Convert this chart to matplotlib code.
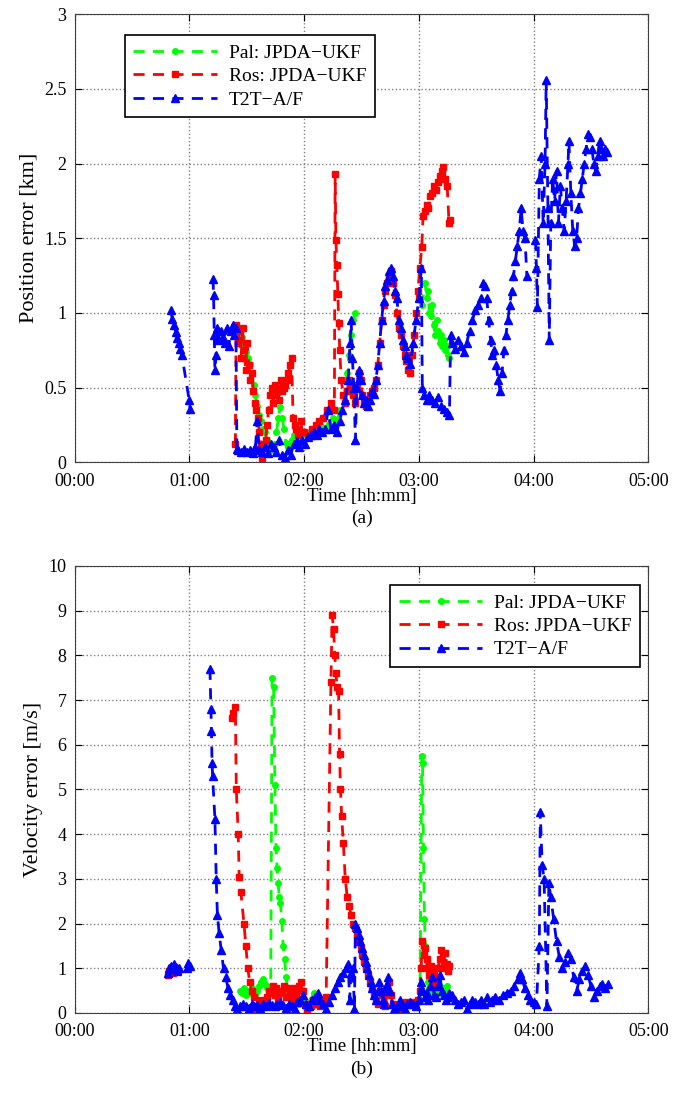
import numpy as np
import matplotlib.pyplot as plt
from matplotlib.ticker import FuncFormatter, MultipleLocator

nan = np.nan

# ---------------- (a) position error [km], time in minutes ----------------
pal_pos_t = [84.5, 85.5, 86.5, 87.5, 88.5, 89.5, 90.5, 91.5, 92.5, 93.5, 94.5, 95.5, 96.5, 97.5,
             98.5, 99.5, 100.5, 101.5, 102.5, 103.5, 104.5, 105.5, 106.5, 107.5, 108.5, 109.5,
             110.5, 111.5, 112.5, 113.5, 114.5, 115.5, 116.5, 117.5, 118.5, 119.5, 121, 123, 125,
             127, 129, 131, 133, 135, 137, 139, 141, 142.5, 143.5, 144.5, 145.5, 146.6,
             nan,
             181.5, 183.3, 184, 184.8, 185.5, 186.3, 187, 187.8, 188.5, 189.3, 190, 190.8, 191.5,
             192.3, 193, 193.8, 194.5, 195.3, 196]
pal_pos = [0.88, 0.82, 0.8, 0.84, 0.78, 0.74, 0.7, 0.66, 0.6, 0.52, 0.45, 0.38, 0.32, 0.28,
           0.22, 0.2, 0.15, 0.1, 0.08, 0.1, 0.12, 0.2, 0.3, 0.37, 0.3, 0.22,
           0.13, 0.1, 0.12, 0.15, 0.18, 0.16, 0.2, 0.22, 0.18, 0.2, 0.18, 0.2, 0.22,
           0.2, 0.24, 0.22, 0.26, 0.3, 0.28, 0.35, 0.45, 0.6, 0.72, 0.85, 0.95, 1.0,
           nan,
           1.05, 1.2, 1.1, 1.15, 1.0, 0.98, 1.05, 0.92, 0.85, 0.95, 0.88, 0.8, 0.85,
           0.78, 0.82, 0.75, 0.78, 0.72, 0.7]

ros_pos_t = [84.0, 84.4, 85.3, 86.2, 87.0, 87.8, 88.6, 89.4, 90.2, 91.0, 91.8, 92.6, 93.4, 94.2,
             95.0, 95.8, 96.6, 97.4, 98.2, 99.0, 99.8, 100.6, 101.4, 102.2, 103.0, 103.8, 104.6,
             105.4, 106.2, 107.0, 107.8, 108.6, 109.4, 110.2, 111.0, 111.8, 112.6, 113.4, 114.2,
             115.0, 115.8, 116.6, 117.4, 118.2, 119.0, 120, 122, 124, 126, 128, 130, 132, 134,
             135.8, 136.2, 136.6, 137.1, 137.6, 138.1, 138.6, 139.4, 140.5, 141.5, 142.5, 143.5,
             144.5, 145.5, 146.5, 147.5, 148.5, 149.5, 150.5, 151.5, 152.5, 153.5, 154.5, 155.5,
             156.5, 157.5, 158.5, 159.5, 160.5, 161.5, 162.5, 163.5, 164.5, 165.5, 166.5, 167.5,
             168.5, 169.5, 170.5, 171.5, 172.5, 173.5, 174.5, 175.5, 176.5, 177.5, 178.5, 179.5,
             180.5, 181.5, 182.2, 183.0, 184, 185, 186, 187, 188, 189, 190, 191, 192, 192.8,
             193.8, 194.8, 195.8, 196.3]
ros_pos = [0.12, 0.92, 0.8, 0.88, 0.7, 0.9, 0.75, 0.62, 0.8, 0.65, 0.55, 0.6, 0.48, 0.4,
           0.35, 0.3, 0.2, 0.12, 0.03, 0.1, 0.15, 0.25, 0.35, 0.45, 0.5, 0.4, 0.52,
           0.45, 0.5, 0.42, 0.55, 0.48, 0.5, 0.52, 0.55, 0.6, 0.65, 0.7, 0.3,
           0.25, 0.22, 0.18, 0.2, 0.28, 0.2, 0.2, 0.18, 0.22, 0.25, 0.28, 0.3, 0.35, 0.4,
           0.35, 1.93, 1.49, 1.32, 1.13, 0.93, 0.75, 0.55, 0.45, 0.4, 0.48, 0.55,
           0.5, 0.45, 0.4, 0.52, 0.6, 0.55, 0.45, 0.4, 0.38, 0.42, 0.45, 0.48,
           0.5, 0.55, 0.65, 0.8, 0.95, 1.05, 1.15, 1.2, 1.25, 1.28, 1.2, 1.12,
           1.0, 0.9, 0.85, 0.78, 0.72, 0.68, 0.62, 0.6, 0.72, 0.85, 1.0, 1.15,
           1.3, 1.44, 1.65, 1.68, 1.72, 1.7, 1.78, 1.8, 1.85, 1.82, 1.88, 1.92, 1.95, 1.98,
           1.9, 1.85, 1.6, 1.62]

t2t_pos_t = [50.3, 51, 52, 52.8, 53.6, 54.4, 55.2, 56, 59.8, 60.3,
             nan,
             72.3, 72.6, 73.0, 73.3, 73.8, 74.6, 75.6, 76.6, 77.6, 78.6, 79.6, 80.6, 81.6, 82.6,
             83.4, 84.3, 84.8, 85.5, 87, 88.5, 90, 91.5, 93, 94.5, 95.5, 96.5, 98, 99.5, 101,
             102.5, 104, 105.5, 107, 108.5, 110, 111.5, 113, 114.5, 116, 117.5, 119, 120.5, 122,
             123.5, 125, 126.5, 128, 129.5, 131, 132.5, 134, 135.5, 137, 138.5, 140, 141.5, 143,
             144, 144.6, 145.2, 146, 146.8, 147.5, 148.5, 149.5, 150.5, 151.5, 152.5, 153.5, 154.5,
             155.5, 156.5, 157.5, 158.5, 159.5, 160.5, 161.5, 162.5, 163.5, 164.5, 165.5, 166.5,
             167.5, 168.5, 169.5, 170.5, 171.5, 172.5, 173.5, 174.5, 175.5, 177, 178.5, 180,
             181.3, 181.8, 182.5, 184, 185.5, 187, 188.5, 190, 191.5, 193, 194.5, 196, 196.6,
             197.5, 199, 200.5, 202, 203.5, 205, 206.5, 208, 209.5, 211, 212.5, 213.5, 214.5,
             215.5, 216.5, 217.5, 218.5, 219.5, 220.5, 221.5, 222.5, 223.5, 224.5, 225.5, 226.5,
             227.5, 228.5, 229.5, 230.5, 231.5, 232.5, 233.5, 234.5, 235.5, 236.5,
             nan,
             241, 241.5, 242, 243, 244, 245, 246, 246.6, 247.5, 248.2, 249, 250, 251, 252, 253,
             254, 255, 256, 257, 258, 258.5, 259.5, 260.5, 261.5, 262.5, 263.5, 264.5, 265.5,
             266.5, 267.5, 268.5, 269.5, 270.5, 271.5, 272.5, 273.5, 274.5, 275.5, 276.5, 277.5,
             278.5]
t2t_pos = [1.02, 0.96, 0.92, 0.87, 0.83, 0.8, 0.76, 0.72, 0.42, 0.36,
           nan,
           1.23, 1.12, 0.85, 0.62, 0.72, 0.9, 0.82, 0.88, 0.84, 0.8, 0.9, 0.78, 0.88, 0.92,
           0.85, 0.9, 0.09, 0.08, 0.07, 0.09, 0.07, 0.08, 0.06, 0.1, 0.28, 0.08, 0.07, 0.1, 0.06,
           0.12, 0.1, 0.07, 0.15, 0.05, 0.03, 0.08, 0.05, 0.12, 0.14, 0.1, 0.15, 0.12, 0.17,
           0.18, 0.2, 0.18, 0.22, 0.2, 0.22, 0.35, 0.22, 0.25, 0.2, 0.28, 0.35, 0.42, 0.55,
           0.8, 0.95, 0.7, 0.5, 0.15, 0.5, 0.62, 0.55, 0.45, 0.4, 0.42, 0.38, 0.42,
           0.48, 0.46, 0.55, 0.65, 0.8, 0.95, 1.08, 1.18, 1.22, 1.28, 1.3, 1.25,
           1.15, 1.1, 0.95, 0.9, 0.82, 0.78, 0.72, 0.7, 0.66, 0.8, 0.95, 1.1,
           1.3, 0.5, 0.45, 0.42, 0.45, 0.42, 0.4, 0.44, 0.38, 0.36, 0.34, 0.32, 0.85,
           0.8, 0.76, 0.82, 0.78, 0.74, 0.8, 0.88, 0.95, 1.02, 1.05, 1.1, 1.2, 1.18,
           1.1, 0.95, 0.82, 0.72, 0.75, 0.65, 0.55, 0.48, 0.6, 0.75, 0.85, 0.95,
           1.05, 1.15, 1.25, 1.35, 1.45, 1.55, 1.7, 1.55, 1.5, 1.25,
           nan,
           1.49, 1.3, 1.04, 1.9, 2.05, 1.6, 2.0, 2.56, 1.7, 0.82, 1.6, 1.9, 1.75, 1.95, 1.6,
           1.85, 1.7, 1.55, 1.75, 2.0, 2.15, 1.8, 1.55, 1.45, 1.5, 1.7, 1.8, 1.9,
           2.0, 2.1, 2.2, 2.18, 2.1, 2.0, 1.95, 2.05, 2.15, 2.1, 2.05, 2.1,
           2.08]

# ---------------- (b) velocity error [m/s] ----------------
pal_vel_t = [86.4, 87.5, 88.5, 89.5, 90.5, 91.5, 92.5, 93.5, 94.5, 95.5, 96.5, 97.5, 98.5, 99.5,
             100.5, 101.5, 102.5, 103.2, 104.0, 104.7, 105.3, 105.8, 106.4, 107.0, 107.6, 108.3,
             109.0, 109.8, 110.5, 111.3, 112.0, 113, 114, 115, 116, 117.5, 119, 120.5, 122, 123.5,
             125, 126.5, 128,
             nan,
             180.6, 181.5, 181.9, 182.4, 182.9, 183.4, 184.0, 184.6, 185.3, 186.0, 186.7, 187.4,
             188.1, 188.8, 189.5, 190.2, 191.0, 191.7, 192.4, 193.1, 193.8, 194.5]
pal_vel = [0.5, 0.45, 0.55, 0.4, 0.5, 0.45, 0.55, 0.5, 0.4, 0.5, 0.6, 0.7, 0.75, 0.65,
           0.55, 0.5, 0.6, 7.5, 7.3, 5.1, 3.7, 3.25, 2.9, 2.6, 2.45, 2.05,
           1.5, 1.2, 0.8, 0.55, 0.4, 0.3, 0.2, 0.45, 0.25, 0.2, 0.3, 0.15, 0.1, 0.3,
           0.45, 0.3, 0.2,
           nan,
           0.3, 5.75, 5.6, 3.7, 2.1, 1.5, 1.0, 0.7, 0.55, 0.75, 0.5, 0.45,
           0.6, 0.4, 0.55, 0.45, 0.6, 0.5, 0.4, 0.55, 0.5, 0.6]

ros_vel_t = [48.7, 49.5, 50.3, 51.5, 52.7, 54,
             nan,
             82.2, 83.0, 84.0, 84.5, 85.5, 86.0, 86.9, 88.5, 89.5, 90.5, 91.5, 92.5, 93.5, 94.5,
             95.5, 96.5, 97.5, 98.5, 99.5, 100.5, 101.5, 102.5, 103.5, 104.5, 105.5, 106.5, 107.5,
             108.5, 109.5, 110.5, 111.5, 112.5, 113.5, 114.5, 115.5, 116.5, 117.5, 118.5, 119.5,
             120.5, 121.5, 122.5, 123.5, 124.5, 125.5, 126.5, 127.5, 128.5, 129.5, 130.5, 131.5,
             134.0, 134.6, 135.4, 136.0, 136.6, 137.2, 138.0, 138.5, 139.0, 139.6, 140.5, 141.5,
             142.5, 143.5, 144.5, 145.5, 146.5, 147.5, 148.5, 149.5, 150.5, 151.5, 152.5, 153.5,
             154.5, 155.5, 156.5, 157.5, 158.5, 159.5, 160.5, 161.5, 162.5, 163.5, 164.5, 165.5,
             166.5, 167.5, 169, 170.5, 172, 173.5, 175, 176.5, 178, 179.5,
             180.5, 181.2, 181.8, 182.5, 183.3, 184.0, 184.8, 185.5, 186.3, 187.0, 187.8, 188.5,
             189.3, 190.0, 190.8, 191.5, 192.3, 193.0, 193.8, 194.5, 195.3, 196.0]
ros_vel = [0.85, 0.95, 1.0, 0.9, 1.0, 0.95,
           nan,
           6.6, 6.7, 6.85, 5.0, 4.0, 3.05, 2.7, 2.0, 1.5, 1.0, 0.7, 0.5, 0.35, 0.15,
           0.1, 0.2, 0.3, 0.15, 0.2, 0.35, 0.5, 0.45, 0.6, 0.4, 0.55, 0.3, 0.5,
           0.45, 0.6, 0.35, 0.55, 0.4, 0.3, 0.55, 0.4, 0.3, 0.6, 0.7, 0.5,
           0.2, 0.1, 0.2, 0.15, 0.3, 0.2, 0.25, 0.2, 0.15, 0.3, 0.2, 0.35,
           7.4, 8.9, 8.6, 8.0, 7.6, 7.3, 7.2, 5.8, 5.0, 4.4, 3.8, 3.0,
           2.6, 2.4, 2.2, 2.0, 1.9, 1.75, 1.6, 1.45, 1.3, 1.15, 1.0, 0.85,
           0.7, 0.55, 0.45, 0.3, 0.2, 0.5, 0.4, 0.2, 0.15, 0.5, 0.7, 0.4,
           0.2, 0.1, 0.1, 0.2, 0.15, 0.25, 0.2, 0.25, 0.2, 0.3,
           0.5, 1.0, 1.6, 1.3, 1.45, 1.2, 1.0, 0.85, 1.05, 0.75, 0.9, 0.6,
           0.8, 1.0, 1.2, 1.4, 1.0, 1.1, 1.35, 1.1, 0.95, 1.05]

t2t_vel_t = [48.7, 49.5, 50.3, 51.1, 51.9, 52.7, 53.5, 54.3,
             nan,
             58.6, 59.4, 60.2,
             nan,
             70.7, 71.2, 71.5, 71.8, 72.1, 73.3, 74.0, 74.6, 75.5, 76.6, 77.8, 79.0, 80.2, 81.4,
             82.6, 83.8, 85.0, 86.5, 88, 89.5, 91, 92.5, 94, 95.5, 97, 98.5, 100, 101.5, 103,
             104.5, 106, 107.5, 109, 110.5, 112, 113.5, 115, 116.5, 118, 119.5, 121, 122.5, 124,
             125.5, 127, 128.5, 130, 131.5, 133, 134.5, 136, 137.5, 139, 140.5, 142, 143, 143.8,
             144.5, 145.5, 146.3, 146.8, 147.6, 148.5, 149.4, 150.3, 151.2, 152.1, 153, 153.9,
             154.8, 155.7, 156.6, 157.5, 158.4, 159.3, 160.2, 161.1, 162, 163, 164, 165, 166,
             167, 168, 169, 170, 171, 172.5, 174, 175.5, 177, 178.5, 180, 181, 182, 183, 184,
             185, 186, 187, 188, 189, 190, 191, 192, 193, 194, 195, 196, 197.5, 199, 200.5, 202,
             203.5, 205, 206.5, 208, 209.5, 211, 212.5, 214, 215.5, 217, 218.5, 220, 222, 224,
             226, 228, 230, 232, 233, 234, 235.5, 237, 238, 240, 241.5, 243, 243.5, 244.5,
             245.5, 247, 248, 249, 250.5, 252, 253.5, 255, 256.5, 258, 259.5, 261, 262.5, 264,
             265.5, 267, 268.5, 270, 271.5, 273, 274.5, 276, 277.5, 279]
t2t_vel = [0.9, 1.0, 1.05, 0.98, 1.1, 1.02, 0.95, 1.0,
           nan,
           1.0, 1.12, 1.05,
           nan,
           7.7, 6.8, 6.3, 5.6, 5.3, 4.35, 3.0, 2.2, 1.8, 1.4, 1.0, 0.8, 0.55, 0.4,
           0.3, 0.15, 0.1, 0.15, 0.2, 0.15, 0.12, 0.2, 0.15, 0.18, 0.12, 0.2, 0.15, 0.22, 0.18,
           0.15, 0.2, 0.25, 0.18, 0.12, 0.2, 0.15, 0.1, 0.25, 0.3, 0.4, 0.2, 0.15, 0.3,
           0.35, 0.45, 0.3, 0.2, 0.1, 0.25, 0.4, 0.55, 0.7, 0.8, 0.9, 1.0, 1.1, 0.3,
           0.9, 1.0, 0.1, 2.0, 1.9, 1.75, 1.6, 1.45, 1.3, 1.15, 1.0, 0.85,
           0.7, 0.55, 0.4, 0.3, 0.5, 0.7, 0.5, 0.3, 0.2, 0.6, 0.8, 0.5, 0.2,
           0.1, 0.05, 0.15, 0.3, 0.2, 0.1, 0.2, 0.25, 0.2, 0.15, 0.3, 0.7, 0.5, 0.35, 0.45,
           0.3, 0.6, 0.8, 0.4, 0.35, 0.6, 0.85, 0.5, 0.4, 0.3, 0.35, 0.45, 0.4, 0.3, 0.2, 0.25,
           0.3, 0.1, 0.2, 0.3, 0.25, 0.2, 0.3, 0.2, 0.35, 0.25, 0.3, 0.35, 0.3, 0.4,
           0.45, 0.5, 0.6, 0.75, 0.9, 0.75, 0.55, 0.4, 0.3, 0.25, 0.2, 1.5, 4.5, 3.3,
           3.0, 0.15, 2.9, 2.6, 2.1, 1.6, 1.25, 1.0, 1.15, 1.35, 1.2, 0.8, 0.5, 0.75,
           0.95, 1.05, 0.85, 0.6, 0.35, 0.5, 0.6, 0.65, 0.55, 0.65]

labels = ['Pal: JPDA\u2212UKF', 'Ros: JPDA\u2212UKF', 'T2T\u2212A/F']
colors = ['#00ff00', '#ff0000', '#0000ff']
markers = ['o', 's', '^']
msizes = [4, 4, 6]

plt.rcParams['font.family'] = ['Liberation Serif', 'DejaVu Serif']
plt.rcParams['font.size'] = 13


def hhmm(v, pos):
    return '%02d:%02d' % (int(v) // 60, int(v) % 60)


def setup(ax, ymax, ystep, ylabel):
    ax.set_xlim(0, 300)
    ax.set_ylim(0, ymax)
    ax.xaxis.set_major_locator(MultipleLocator(60))
    ax.yaxis.set_major_locator(MultipleLocator(ystep))
    ax.xaxis.set_major_formatter(FuncFormatter(hhmm))
    ax.yaxis.set_major_formatter(FuncFormatter(lambda v, p: '%g' % v))
    ax.grid(True, linestyle=':', color='#808080', linewidth=1)
    ax.tick_params(direction='in', top=True, right=True, length=5, labelsize=13)
    ax.tick_params(axis='x', pad=7.5)
    ax.tick_params(axis='y', pad=6)
    for s in ax.spines.values():
        s.set_color('#404040')
    ax.set_xlabel('Time [hh:mm]', fontsize=13.5)
    h = ax.get_position().height * 1093
    ax.xaxis.set_label_coords(0.5, -34.0 / h)
    ax.xaxis.label.set_va('center')
    ax.set_ylabel(ylabel, fontsize=16, labelpad=4)


def add_legend(ax, loc, anchor):
    leg = ax.legend(loc=loc, bbox_to_anchor=anchor, handlelength=4.3,
                    fancybox=False, edgecolor='k', framealpha=1, fontsize=14,
                    borderpad=0.45, labelspacing=0.3, handletextpad=0.6,
                    borderaxespad=0)
    leg.get_frame().set_linewidth(1.2)
    return leg


fig = plt.figure(figsize=(6.86, 10.93), dpi=100)

ax1 = fig.add_axes([0.109, 0.577, 0.836, 0.410])
series1 = [(pal_pos_t, pal_pos), (ros_pos_t, ros_pos), (t2t_pos_t, t2t_pos)]
for (t, v), c, m, ms, lab in zip(series1, colors, markers, msizes, labels):
    ax1.plot(t, v, '--', color=c, marker=m, markersize=ms, linewidth=2, label=lab,
             dashes=(4, 3))
setup(ax1, 3, 0.5, 'Position error [km]')
add_legend(ax1, 'upper left', (0.087, 0.953))
fig.text(0.527, 1 - 518.0 / 1093, '(a)', ha='center', va='center', fontsize=14)

ax2 = fig.add_axes([0.109, 0.0732, 0.836, 0.409])
series2 = [(pal_vel_t, pal_vel), (ros_vel_t, ros_vel), (t2t_vel_t, t2t_vel)]
for (t, v), c, m, ms, lab in zip(series2, colors, markers, msizes, labels):
    ax2.plot(t, v, '--', color=c, marker=m, markersize=ms, linewidth=2, label=lab,
             dashes=(4, 3))
setup(ax2, 10, 1, 'Velocity error [m/s]')
add_legend(ax2, 'upper right', (0.986, 0.957))
fig.text(0.527, 1 - 1069.0 / 1093, '(b)', ha='center', va='center', fontsize=14)

fig.savefig('out.png', dpi=100)
